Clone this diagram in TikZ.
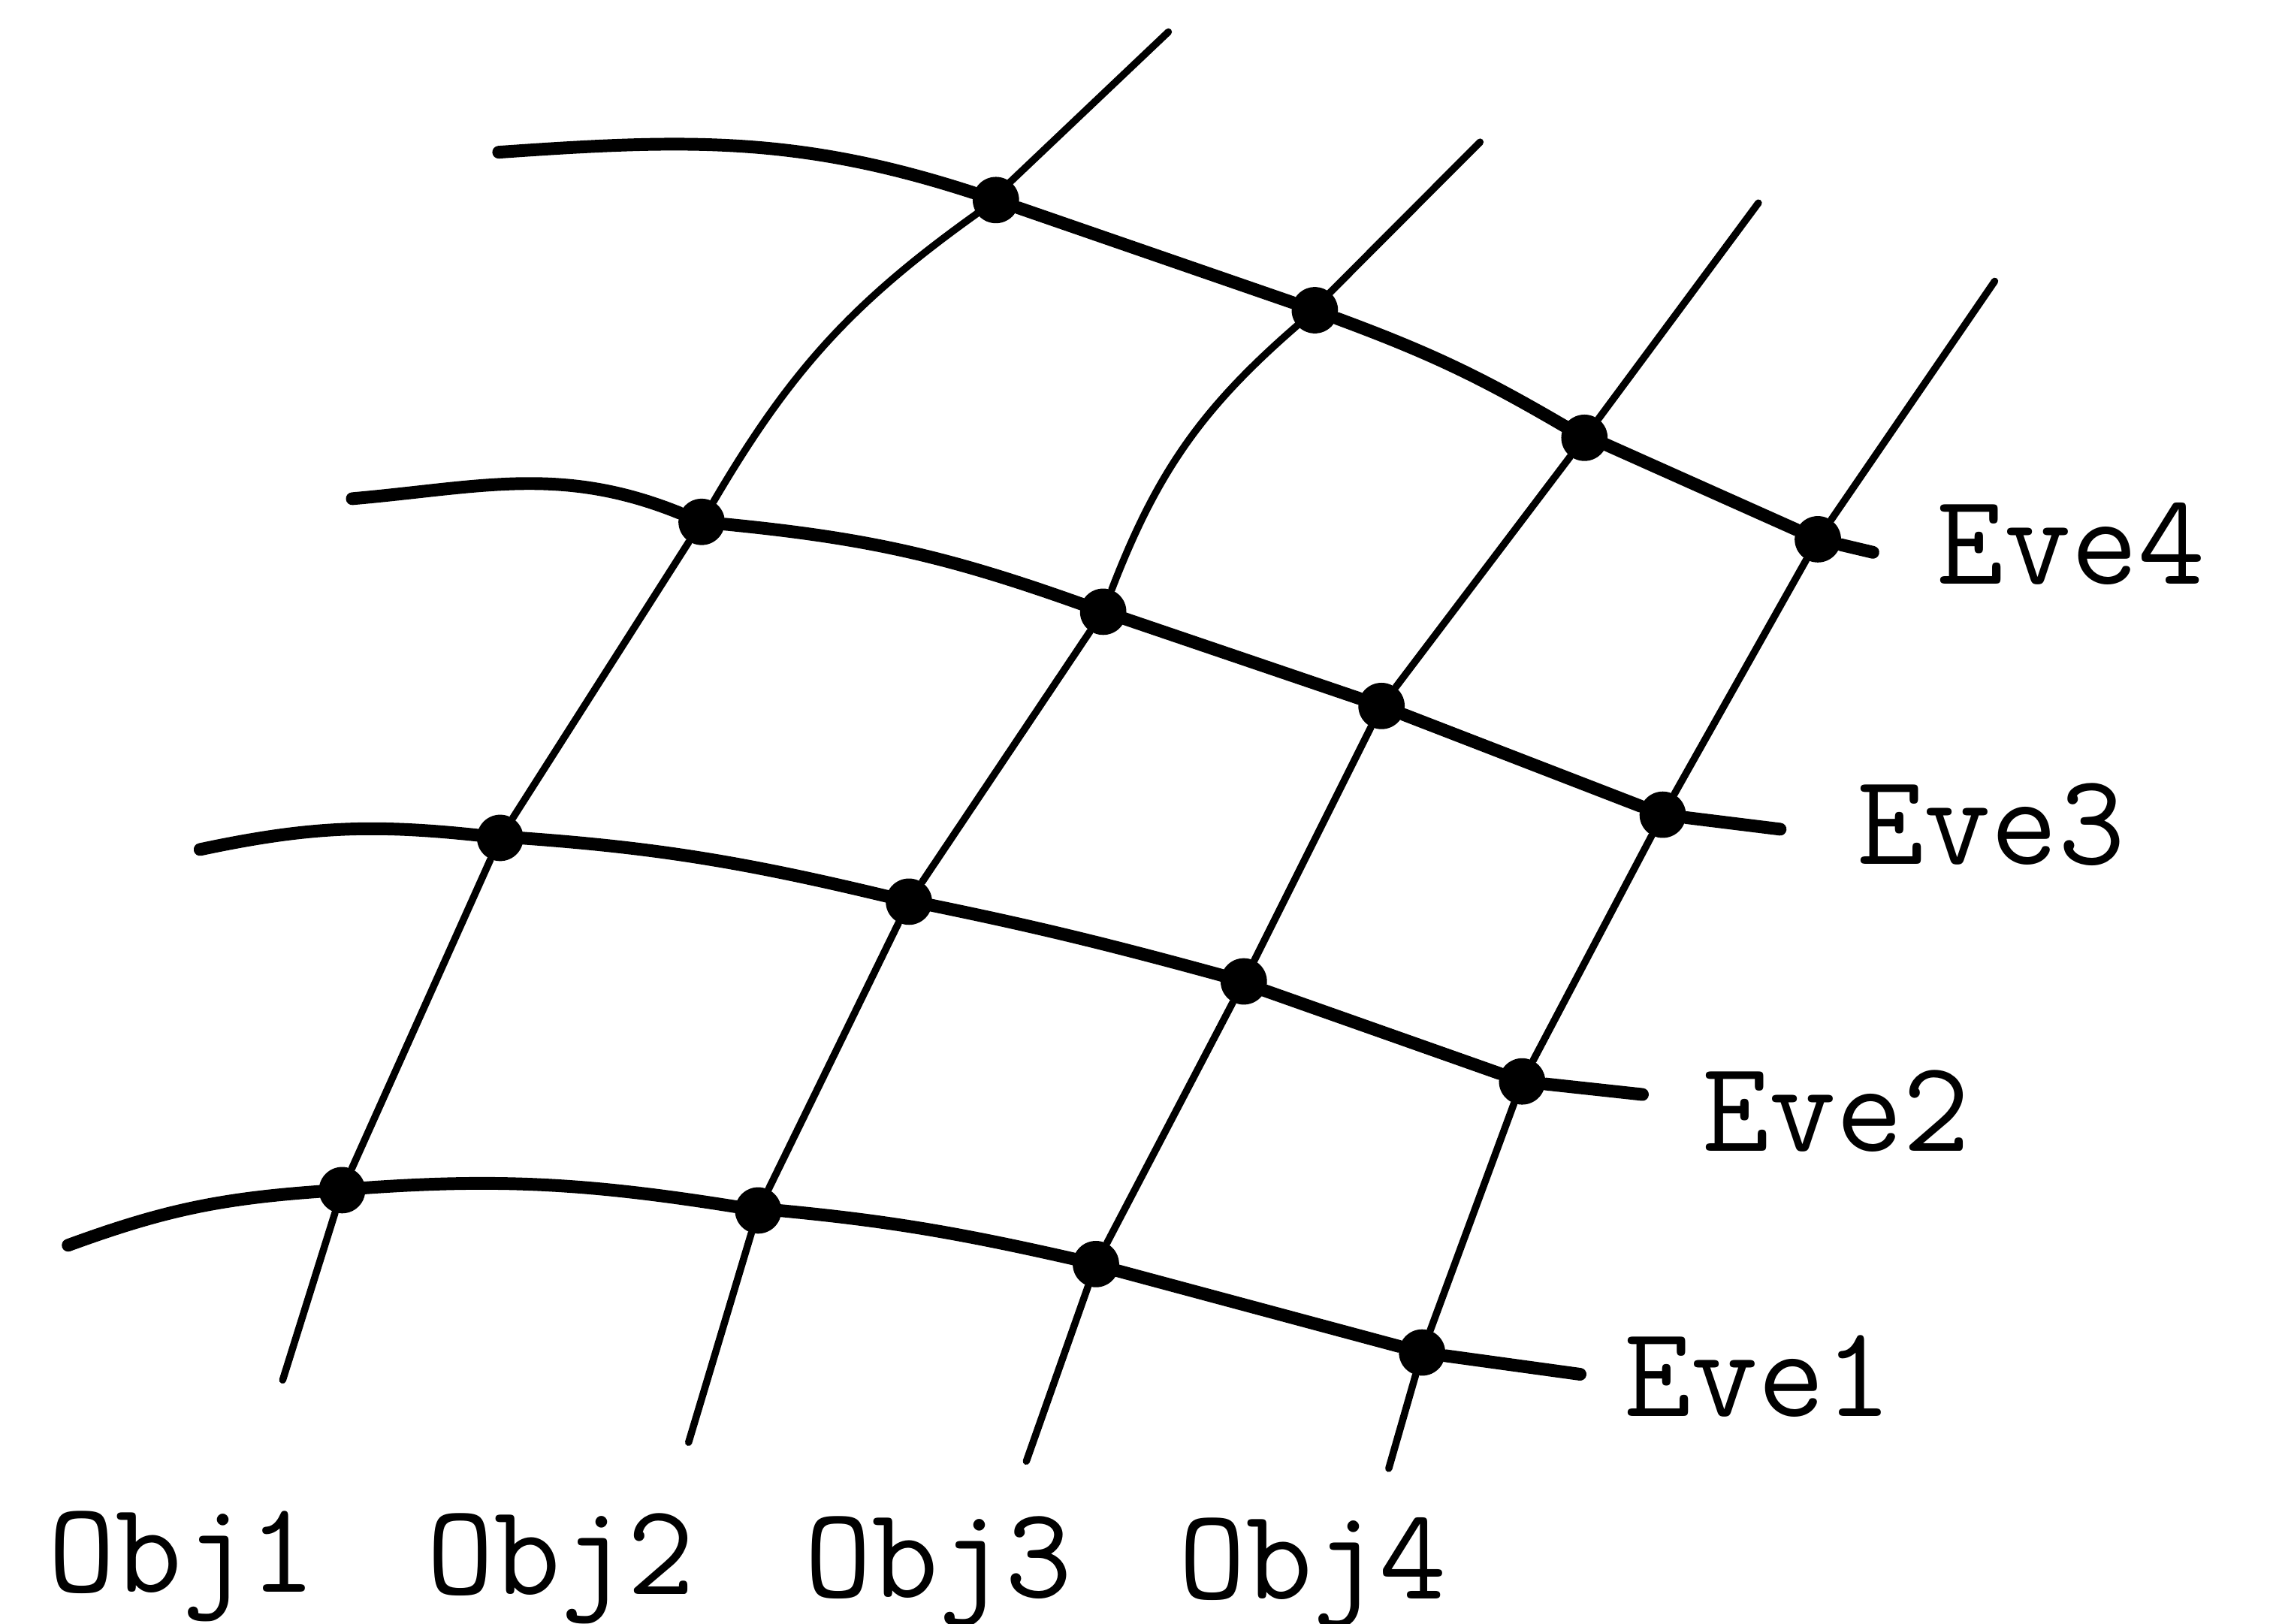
\documentclass[tikz,border=0pt]{standalone}
\usepackage{fontspec}
\newcommand{\labfont}{\ttfamily\addfontfeature{LetterSpace=5.5}\fontsize{51}{56}\selectfont}
\begin{document}
\begin{tikzpicture}[x=0.02cm,y=-0.02cm,
  eve/.style={line width=5pt, line cap=round, line join=round},
  obj/.style={line width=2.8pt, line cap=round, line join=round},
  knot/.style={circle, fill=black, inner sep=0pt, minimum size=0.64cm},
  lab/.style={font=\labfont, inner sep=0pt, anchor=base west}]
\useasboundingbox (0,0) rectangle (1568,1120);
% intersections k<obj><eve>
\node[knot] (k11) at (236,821) {};
\node[knot] (k21) at (523,835) {};
\node[knot] (k31) at (756,872) {};
\node[knot] (k41) at (981,933) {};
\node[knot] (k12) at (345,578) {};
\node[knot] (k22) at (627,622) {};
\node[knot] (k32) at (858,677) {};
\node[knot] (k42) at (1050,746) {};
\node[knot] (k13) at (484,360) {};
\node[knot] (k23) at (761,422) {};
\node[knot] (k33) at (953,487) {};
\node[knot] (k43) at (1147,562) {};
\node[knot] (k14) at (687,138) {};
\node[knot] (k24) at (907,214) {};
\node[knot] (k34) at (1093,302) {};
\node[knot] (k44) at (1254,372) {};
% free ends
\coordinate (e1a) at (47,859);   \coordinate (e1b) at (1090,948);
\coordinate (e2a) at (138,586);  \coordinate (e2b) at (1133,755);
\coordinate (e3a) at (243,344);  \coordinate (e3b) at (1228,572);
\coordinate (e4a) at (344,105);  \coordinate (e4b) at (1292,381);
\coordinate (o1t) at (806,22);   \coordinate (o1b) at (195,952);
\coordinate (o2t) at (1021,98);  \coordinate (o2b) at (475,995);
\coordinate (o3t) at (1213,140); \coordinate (o3b) at (708,1008);
\coordinate (o4t) at (1376,194); \coordinate (o4b) at (958,1013);
% event lines
\draw[eve] (e1a) to[bend left=8] (k11) to[bend left=7] (k21) to[bend left=4] (k31) -- (k41) -- (e1b);
\draw[eve] (e2a) to[bend left=9] (k12) to[bend left=5] (k22) to[bend left=2] (k32) -- (k42) -- (e2b);
\draw[eve] (e3a) to[out=5,in=158] (k13) to[bend left=7] (k23) -- (k33) -- (k43) -- (e3b);
\draw[eve] (e4a) to[out=4,in=162] (k14) -- (k24) to[bend left=5] (k34) -- (k44) -- (e4b);
% object lines
\draw[obj] (o1b) -- (k11) -- (k12) -- (k13) to[bend left=12] (k14) -- (o1t);
\draw[obj] (o2b) -- (k21) -- (k22) -- (k23) to[bend left=14] (k24) -- (o2t);
\draw[obj] (o3b) -- (k31) -- (k32) -- (k33) -- (k34) -- (o3t);
\draw[obj] (o4b) -- (k41) -- (k42) -- (k43) -- (k44) -- (o4t);
% labels
\node[lab] (eve4) at (1336,403) {Eve4};
\node[lab] (eve3) at (1281,596) {Eve3};
\node[lab] (eve2) at (1174,794) {Eve2};
\node[lab] (eve1) at (1120,977) {Eve1};
\node[lab] (obj1) at (33,1098) {Obj1};
\node[lab] (obj2) at (294,1100) {Obj2};
\node[lab] (obj3) at (555,1102) {Obj3};
\node[lab] (obj4) at (813,1103) {Obj4};
\end{tikzpicture}
\end{document}
